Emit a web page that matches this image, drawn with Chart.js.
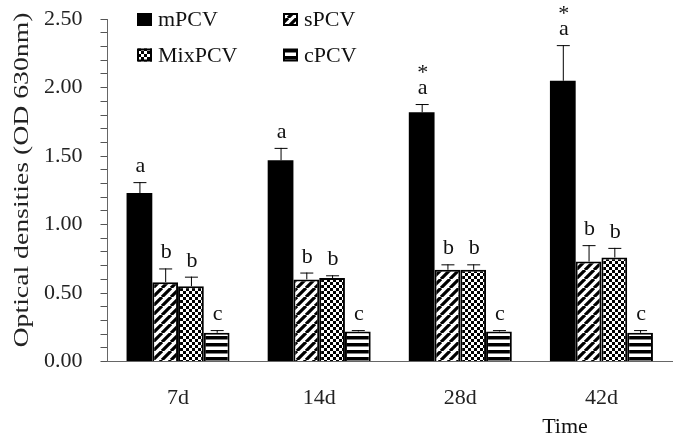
<!DOCTYPE html>
<html>
<head>
<meta charset="utf-8">
<script src="https://cdn.jsdelivr.net/npm/chart.js@4"></script>
<style>
  html, body { margin: 0; padding: 0; background: #fff; }
</style>
</head>
<body>
<canvas id="odChart" width="685" height="437"></canvas>
<script>
// === data ===
const timePoints = ['7d', '14d', '28d', '42d'];
const seriesNames = ['mPCV', 'sPCV', 'MixPCV', 'cPCV'];

const mPCV = [1.23, 1.47, 1.82, 2.05];
const sPCV = [0.58, 0.60, 0.67, 0.73];
const mixPCV = [0.55, 0.61, 0.67, 0.76];
const cPCV = [0.21, 0.22, 0.22, 0.21];

// upper error (SD) above each bar
const mPCVErr = [0.08, 0.09, 0.06, 0.26];
const sPCVErr = [0.10, 0.05, 0.04, 0.12];
const mixPCVErr = [0.07, 0.02, 0.04, 0.07];
const cPCVErr = [0.02, 0.01, 0.01, 0.02];

// significance letters
const mPCVLetters = ['a', 'a', 'a', 'a'];
const sPCVLetters = ['b', 'b', 'b', 'b'];
const mixPCVLetters = ['b', 'b', 'b', 'b'];
const cPCVLetters = ['c', 'c', 'c', 'c'];
const mPCVStars = ['', '', '*', '*'];

const yTickLabels = ['0.00', '0.50', '1.00', '1.50', '2.00', '2.50'];

const FONT = "'Liberation Serif', 'Times New Roman', serif";
Chart.defaults.font.family = FONT;

// === fill patterns ===
function makePattern(kind) {
  const c = document.createElement('canvas');
  const g = c.getContext('2d');
  if (kind === 'diag') {
    c.width = 9; c.height = 9;
    g.fillStyle = '#fff'; g.fillRect(0, 0, 9, 9);
    g.strokeStyle = '#000'; g.lineWidth = 3.2;
    g.beginPath();
    for (let k = -9; k <= 18; k += 9) {
      g.moveTo(k, 9); g.lineTo(k + 9, 0);
    }
    g.stroke();
  } else if (kind === 'check') {
    c.width = 6; c.height = 6;
    g.fillStyle = '#fff'; g.fillRect(0, 0, 6, 6);
    g.fillStyle = '#000';
    g.fillRect(0, 0, 3, 3); g.fillRect(3, 3, 3, 3);
  } else if (kind === 'hline') {
    c.width = 7; c.height = 7;
    g.fillStyle = '#fff'; g.fillRect(0, 0, 7, 7);
    g.fillStyle = '#000'; g.fillRect(0, 0, 7, 3.5);
  }
  return document.getElementById('odChart').getContext('2d').createPattern(c, 'repeat');
}

const fills = ['#000', makePattern('diag'), makePattern('check'), makePattern('hline')];
const values = [mPCV, sPCV, mixPCV, cPCV];
const errs = [mPCVErr, sPCVErr, mixPCVErr, cPCVErr];
const letters = [mPCVLetters, sPCVLetters, mixPCVLetters, cPCVLetters];

// === plugin: error bars, letters, legend, axis titles ===
const annotate = {
  id: 'annotate',
  afterDatasetsDraw(chart) {
    const ctx = chart.ctx;
    const y = chart.scales.y;
    ctx.save();
    chart.data.datasets.forEach((ds, i) => {
      const meta = chart.getDatasetMeta(i);
      meta.data.forEach((bar, j) => {
        const top = y.getPixelForValue(values[i][j] + errs[i][j]);
        ctx.strokeStyle = '#000';
        ctx.lineWidth = 1;
        ctx.beginPath();
        ctx.moveTo(bar.x + 0.5, bar.y);
        ctx.lineTo(bar.x + 0.5, top);
        ctx.moveTo(bar.x - 6, top + 0.5);
        ctx.lineTo(bar.x + 7, top + 0.5);
        ctx.stroke();

        ctx.fillStyle = '#111';
        ctx.font = '22px ' + FONT;
        ctx.textAlign = 'center';
        ctx.textBaseline = 'alphabetic';
        const base = top - 10;
        ctx.fillText(letters[i][j], bar.x + 1, base);
        if (i === 0 && mPCVStars[j]) {
          ctx.fillText(mPCVStars[j], bar.x + 1, base - 15);
        }
      });
    });
    ctx.restore();
  },
  afterDraw(chart) {
    const ctx = chart.ctx;
    ctx.save();
    // legend
    const cols = [137, 283];
    const rows = [19.5, 55];
    seriesNames.forEach((name, i) => {
      const bx = cols[i % 2], cy = rows[Math.floor(i / 2)];
      ctx.fillStyle = fills[i];
      ctx.fillRect(bx, cy - 6.5, 15, 13);
      ctx.strokeStyle = '#000';
      ctx.lineWidth = 2;
      ctx.strokeRect(bx + 1, cy - 5.5, 13, 11);
      ctx.fillStyle = '#111';
      ctx.font = '22px ' + FONT;
      ctx.textAlign = 'left';
      ctx.textBaseline = 'middle';
      ctx.fillText(name, bx + 21, cy + 1);
    });

    // y title
    ctx.save();
    ctx.translate(22, 180);
    ctx.rotate(-Math.PI / 2);
    ctx.scale(1.26, 1);
    ctx.fillStyle = '#222';
    ctx.font = '22px ' + FONT;
    ctx.textAlign = 'center';
    ctx.textBaseline = 'middle';
    ctx.fillText('Optical densities (OD 630nm)', 0, 0);
    ctx.restore();

    // x title
    ctx.fillStyle = '#111';
    ctx.font = '22px ' + FONT;
    ctx.textAlign = 'center';
    ctx.textBaseline = 'alphabetic';
    ctx.fillText('Time', 565, 433);
    ctx.restore();
  }
};

new Chart(document.getElementById('odChart'), {
  type: 'bar',
  data: {
    labels: timePoints,
    datasets: seriesNames.map((name, i) => ({
      label: name,
      data: values[i],
      backgroundColor: fills[i],
      borderColor: '#000',
      borderWidth: i === 0 ? 0 : 2,
      categoryPercentage: 0.73,
      barPercentage: 1.0
    }))
  },
  options: {
    responsive: false,
    devicePixelRatio: 1,
    animation: false,
    layout: { padding: { left: 26, right: 13, top: 0, bottom: 3 } },
    plugins: {
      legend: { display: false },
      tooltip: { enabled: false }
    },
    scales: {
      x: {
        grid: { display: false, drawTicks: false },
        border: { display: true, color: '#666', width: 1 },
        ticks: { font: { size: 22 }, color: '#222', padding: 23 }
      },
      y: {
        min: 0,
        max: 2.5,
        ticks: {
          stepSize: 0.1,
          autoSkip: false,
          font: { size: 22, lineHeight: 0.1 },
          color: '#222',
          padding: 18,
          callback: v => {
            const k = Math.round(v * 10);
            return k % 5 === 0 ? yTickLabels[k / 5] : '';
          }
        },
        grid: { display: true, drawOnChartArea: false, drawTicks: true, tickLength: 7, color: '#555', tickColor: '#555', tickWidth: 1 },
        border: { display: true, color: '#666', width: 1 }
      }
    }
  },
  plugins: [annotate]
});
</script>
</body>
</html>
